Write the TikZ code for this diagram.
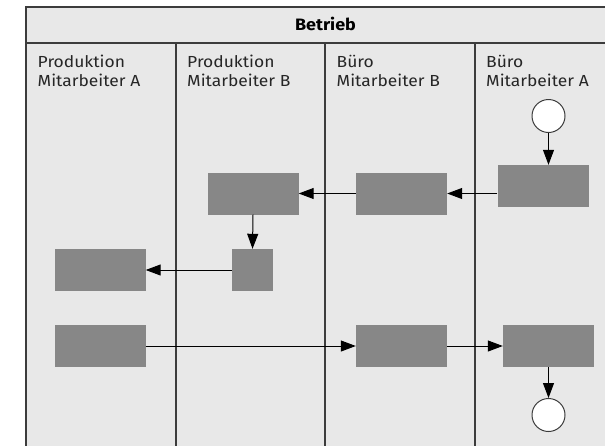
\documentclass[tikz,border=0pt]{standalone}
\usepackage{fontspec}
\setmainfont{Fira Sans}[FakeStretch=1.09]
\usetikzlibrary{arrows.meta,calc}
\definecolor{lanebg}{HTML}{E8E8E8}
\definecolor{taskfill}{HTML}{878787}
\definecolor{frameline}{HTML}{3C3C3C}
\begin{document}
\begin{tikzpicture}[x=1pt,y=-1pt,
  task/.style={fill=taskfill, draw=none, inner sep=0pt, minimum height=42pt, minimum width=#1},
  task/.default=91pt,
  event/.style={circle, draw=frameline, line width=1pt, fill=white, inner sep=0pt, minimum size=33pt},
  flow/.style={draw=black, line width=1pt, -{Triangle[length=15pt,width=11pt]}},
  lane/.style={draw=frameline, line width=1.6pt},
  lanelabel/.style={anchor=base west, inner sep=0pt, font=\fontsize{16}{19}\selectfont, text=black!85}
]
\useasboundingbox (0,0) rectangle (605,445);
\clip (0,0) rectangle (605,445);

% pool background and lane borders
\fill[lanebg] (26,7) rectangle (625,450);
\draw[lane] (625,7) -- (26,7) -- (26,450);
\draw[lane] (26,43) -- (625,43);
\foreach \lx in {176,325,475} \draw[lane] (\lx,43) -- (\lx,450);

% pool title
\node[font=\fontsize{16.5}{19}\selectfont\bfseries, inner sep=0pt, anchor=base] (pool) at (325.5,30.5) {Betrieb};

% lane titles
\node[lanelabel] (l1a) at (37.5,67.5) {Produktion};
\node[lanelabel] (l1b) at (37.5,86.5) {Mitarbeiter A};
\node[lanelabel] (l2a) at (187,67.5) {Produktion};
\node[lanelabel] (l2b) at (187,86.5) {Mitarbeiter B};
\node[lanelabel] (l3a) at (336.5,67.5) {Büro};
\node[lanelabel] (l3b) at (336.5,86.5) {Mitarbeiter B};
\node[lanelabel] (l4a) at (486,67.5) {Büro};
\node[lanelabel] (l4b) at (486,86.5) {Mitarbeiter A};

% events and tasks
\node[event] (start) at (548.5,116) {};
\node[task] (t1) at (543,186) {};
\node[task] (t2) at (401.5,193.5) {};
\node[task] (t3) at (253,193.5) {};
\node[task=41pt] (t4) at (252.5,270) {};
\node[task] (t5) at (100,270) {};
\node[task] (t6) at (100,346) {};
\node[task] (t7) at (401.5,346) {};
\node[task] (t8) at (548.5,346) {};
\node[event] (end) at (548.5,415) {};

% sequence flows
\draw[flow] (start.south) -- (start.south |- t1.north);
\draw[flow] (t1.west |- t2.east) -- (t2.east);
\draw[flow] (t2.west) -- (t3.east);
\draw[flow] (t3.south) -- (t4.north);
\draw[flow] (t4.west) -- (t5.east);
\draw[flow] (t6.east) -- (t7.west);
\draw[flow] (t7.east) -- (t8.west);
\draw[flow] (t8.south) -- (end.north);
\end{tikzpicture}
\end{document}
